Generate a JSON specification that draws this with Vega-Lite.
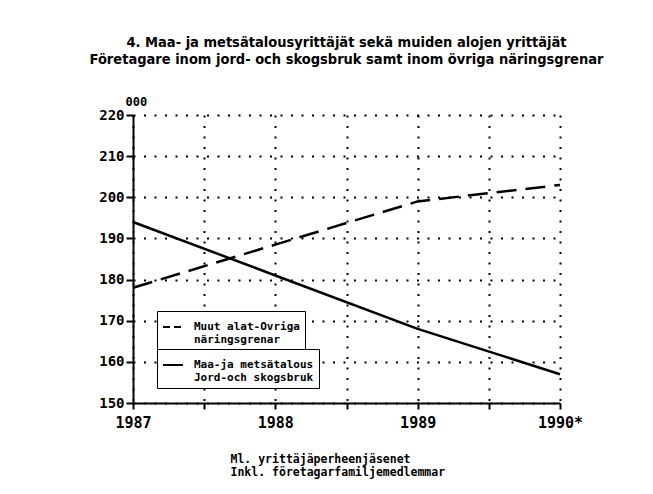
{
  "$schema": "https://vega.github.io/schema/vega-lite/v6.json",
  "autosize": "none",
  "width": 427,
  "height": 288,
  "padding": {"left": 133, "top": 115, "right": 93, "bottom": 91},
  "background": "white",
  "config": {
    "view": {"stroke": null},
    "font": "DejaVu Sans Mono"
  },
  "title": {
    "text": ["4. Maa- ja metsätalousyrittäjät sekä muiden alojen yrittäjät", "Företagare inom jord- och skogsbruk samt inom övriga näringsgrenar"],
    "font": "DejaVu Sans Condensed, DejaVu Sans, sans-serif",
    "fontWeight": "bold",
    "fontSize": 14.5,
    "lineHeight": 17,
    "color": "black",
    "anchor": "middle",
    "frame": "group",
    "offset": 28
  },
  "data": {
    "values": [
      {"series": "Muut alat-Ovriga|näringsgrenar", "year": 1987, "value": 178},
      {"series": "Muut alat-Ovriga|näringsgrenar", "year": 1988, "value": 188.5},
      {"series": "Muut alat-Ovriga|näringsgrenar", "year": 1989, "value": 199},
      {"series": "Muut alat-Ovriga|näringsgrenar", "year": 1990, "value": 203},
      {"series": "Maa-ja metsätalous|Jord-och skogsbruk", "year": 1987, "value": 194},
      {"series": "Maa-ja metsätalous|Jord-och skogsbruk", "year": 1988, "value": 181},
      {"series": "Maa-ja metsätalous|Jord-och skogsbruk", "year": 1989, "value": 168},
      {"series": "Maa-ja metsätalous|Jord-och skogsbruk", "year": 1990, "value": 157}
    ]
  },
  "encoding": {
    "x": {
      "field": "year", "type": "quantitative",
      "scale": {"domain": [1987, 1990], "nice": false, "zero": false},
      "axis": {
        "values": [1987, 1987.5, 1988, 1988.5, 1989, 1989.5, 1990],
        "labelExpr": "datum.value == 1990 ? '1990*' : (datum.value % 1 == 0 ? toString(datum.value) : '')",
        "labelFont": "DejaVu Sans Mono", "labelFontWeight": "bold", "labelFontSize": 15, "labelColor": "black",
        "labelPadding": 6, "labelFlush": false, "labelOverlap": false,
        "domainColor": "black", "domainWidth": 2,
        "tickColor": "black", "tickWidth": 2, "tickSize": 6,
        "grid": true, "gridColor": "black", "gridWidth": 2, "gridDash": [2, 8.5],
        "title": ["Ml. yrittäjäperheenjäsenet", "Inkl. företagarfamiljemedlemmar"],
        "titleFont": "DejaVu Sans Mono", "titleFontWeight": "bold", "titleFontSize": 11.5, "titleColor": "black",
        "titleLineHeight": 13, "titleAlign": "left", "titleAnchor": "start", "titleBaseline": "top",
        "titleX": 97, "titleY": 50
      }
    },
    "y": {
      "field": "value", "type": "quantitative",
      "scale": {"domain": [150, 220], "nice": false, "zero": false},
      "axis": {
        "values": [150, 160, 170, 180, 190, 200, 210, 220],
        "labelFont": "DejaVu Sans Mono", "labelFontWeight": "bold", "labelFontSize": 14, "labelColor": "black",
        "labelPadding": 2,
        "domainColor": "black", "domainWidth": 2,
        "tickColor": "black", "tickWidth": 2, "tickSize": 7,
        "grid": true, "gridColor": "black", "gridWidth": 2, "gridDash": [2, 8.5],
        "title": "000", "titleAngle": 0,
        "titleFont": "DejaVu Sans Mono", "titleFontWeight": "bold", "titleFontSize": 12, "titleColor": "black",
        "titleAlign": "left", "titleBaseline": "middle", "titleX": -8, "titleY": -14
      }
    }
  },
  "layer": [
    {
      "transform": [{"filter": "datum.series == 'Muut alat-Ovriga|näringsgrenar'"}],
      "mark": {"type": "line", "color": "black", "strokeWidth": 2.5, "strokeDash": [20, 9]},
      "encoding": {
        "opacity": {
          "field": "series", "type": "nominal",
          "scale": {"domain": ["Muut alat-Ovriga|näringsgrenar"], "range": [1]},
          "legend": {
            "orient": "none", "legendX": 24, "legendY": 196, "direction": "vertical",
            "title": null, "strokeColor": "black", "fillColor": "white", "padding": 5,
            "symbolType": "stroke", "symbolSize": 400, "symbolStrokeWidth": 2, "symbolStrokeColor": "black",
            "symbolDash": [7, 4], "symbolOpacity": 1,
            "labelFont": "DejaVu Sans Mono", "labelFontWeight": "bold", "labelFontSize": 11, "labelColor": "black",
            "labelLineHeight": 11, "labelOffset": 10, "labelLimit": 300,
            "labelExpr": "split(datum.label, '|')"
          }
        }
      }
    },
    {
      "transform": [{"filter": "datum.series == 'Maa-ja metsätalous|Jord-och skogsbruk'"}],
      "mark": {"type": "line", "strokeWidth": 2.5},
      "encoding": {
        "color": {
          "field": "series", "type": "nominal",
          "scale": {"domain": ["Maa-ja metsätalous|Jord-och skogsbruk"], "range": ["black"]},
          "legend": {
            "orient": "none", "legendX": 24, "legendY": 234, "direction": "vertical",
            "title": null, "strokeColor": "black", "fillColor": "white", "padding": 5,
            "symbolType": "stroke", "symbolSize": 400, "symbolStrokeWidth": 2,
            "labelFont": "DejaVu Sans Mono", "labelFontWeight": "bold", "labelFontSize": 11, "labelColor": "black",
            "labelLineHeight": 11, "labelOffset": 10, "labelLimit": 300,
            "labelExpr": "split(datum.label, '|')"
          }
        }
      }
    }
  ]
}
